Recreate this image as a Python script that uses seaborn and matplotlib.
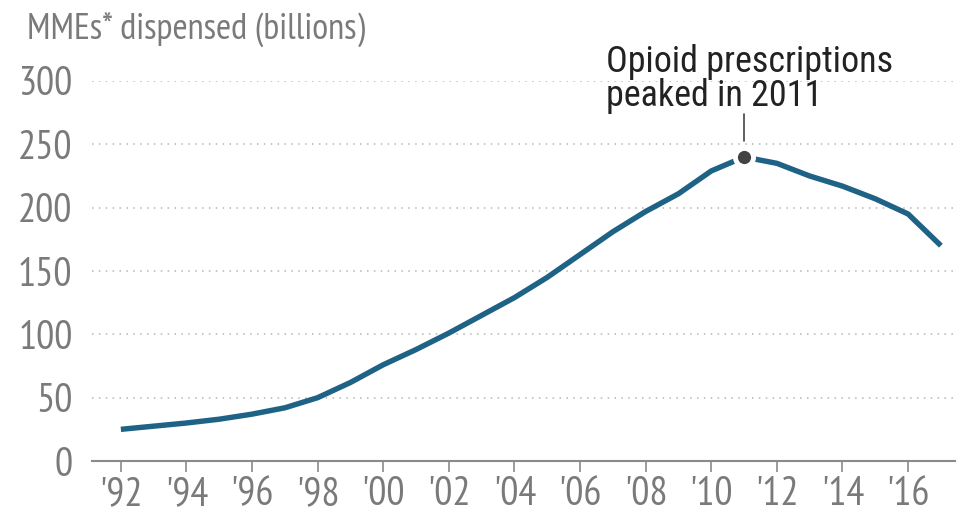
import matplotlib
matplotlib.use("Agg")
import matplotlib.pyplot as plt
import seaborn as sns
import pandas as pd

years = list(range(1992, 2018))
mmes = [25, 27.5, 30, 33, 37, 42, 50, 62, 76, 88, 101, 115, 129, 145, 163,
        181, 197, 211, 229, 240, 235, 225, 217, 207, 195, 170]
tick_years = list(range(1992, 2017, 2))
tick_labels = ["'" + str(y)[-2:] for y in tick_years]
y_ticks = [0, 50, 100, 150, 200, 250, 300]
peak_year = 2011
peak_value = 240

sns.set_theme(style="white")
axis_font = ["PT Sans Narrow", "DejaVu Sans"]
note_font = ["Roboto Condensed", "DejaVu Sans"]
plt.rcParams["font.family"] = axis_font

df = pd.DataFrame({"year": years, "mmes": mmes})

fig = plt.figure(figsize=(9.66, 5.12), dpi=100)
ax = fig.add_axes([92 / 966, 1 - 461 / 512, (955 - 92) / 966, (461 - 81) / 512])

line_color = "#1e6285"
grey_text = "#7a7a7a"

# dotted horizontal gridlines
for v in y_ticks[1:]:
    ax.axhline(v, color="#b5b5b5", lw=1.1, ls=(0, (1, 3.5)), zorder=0)

sns.lineplot(data=df, x="year", y="mmes", ax=ax, color=line_color,
             linewidth=3.9, solid_capstyle="butt", zorder=3)

# peak marker with leader line
ax.scatter([peak_year], [peak_value], s=170, color="#434343",
           edgecolor="white", linewidth=3.5, zorder=5)
ax.plot([peak_year, peak_year], [peak_value + 13, peak_value + 34],
        color="#444444", lw=1.2, zorder=4)
ax.text(peak_year - 4.2, peak_value + 40, "Opioid prescriptions\npeaked in 2011",
        family=note_font, fontsize=26, color="#222222", ha="left", va="baseline",
        linespacing=0.95)

ax.set_xlim(1991.12, 2017.43)
ax.set_ylim(0, 300)
ax.set_xticks(tick_years)
ax.set_xticklabels(tick_labels)
ax.set_yticks(y_ticks)
ax.set_yticklabels([str(v) for v in y_ticks])
ax.set_xlabel("")
ax.set_ylabel("")

for s in ["top", "right", "left"]:
    ax.spines[s].set_visible(False)
ax.spines["bottom"].set_color("#8a8a8a")
ax.spines["bottom"].set_linewidth(1.5)

ax.tick_params(axis="x", direction="out", length=8, width=1.2, color="#8a8a8a",
               labelsize=29, labelcolor=grey_text, pad=3, bottom=True)
ax.tick_params(axis="y", length=0, labelsize=29, labelcolor=grey_text, pad=14)

fig.text(27 / 966, 1 - 12 / 512, "MMEs* dispensed (billions)", fontsize=26.5,
         color=grey_text, ha="left", va="top")

fig.savefig("out.png", dpi=100, facecolor="white")
